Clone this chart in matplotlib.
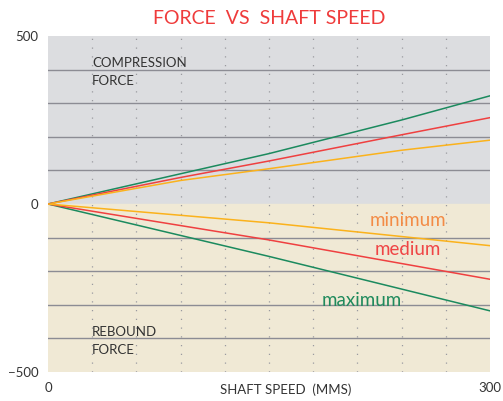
import matplotlib
matplotlib.use('agg')
import matplotlib.pyplot as plt
from matplotlib.transforms import ScaledTranslation

plt.rcParams['font.family'] = ['Lato', 'DejaVu Sans']

# values
comp_speed = [0, 90, 150, 240, 300]
comp_max = [0, 90, 150, 250, 322]
comp_med = [0, 79, 128, 206, 257]
comp_min = [0, 70, 105, 160, 190]
reb_speed = [0, 150, 300]
reb_max = [0, -156, -318]
reb_med = [0, -107, -224]
reb_min = [0, -56, -124]

green = '#1b8a5e'
red = '#ef4040'
orange = '#fbb21c'

fig = plt.figure(figsize=(5.03, 4.01), dpi=100)
ax = fig.add_axes([48/503, 1-372/401, 442/503, 336/401])

ax.axhspan(0, 500, color='#dcdde0', zorder=0)
ax.axhspan(-500, 0, color='#f0e9d5', zorder=0)

for v in [-400, -300, -200, -100, 100, 200, 300, 400]:
    ax.axhline(v, color='#8c8c94', lw=1, zorder=1)
for s in range(30, 300, 30):
    ax.axvline(s, color='#9a9aa0', lw=0.9, ls=(0, (1, 6)), zorder=1)

ax.plot(comp_speed, comp_max, color=green, lw=1.1, zorder=3)
ax.plot(comp_speed, comp_med, color=red, lw=1.1, zorder=3)
ax.plot(comp_speed, comp_min, color=orange, lw=1.1, zorder=3)
ax.plot(reb_speed, reb_max, color=green, lw=1.1, zorder=3)
ax.plot(reb_speed, reb_med, color=red, lw=1.1, zorder=3)
ax.plot(reb_speed, reb_min, color=orange, lw=1.1, zorder=3)

ax.text(244, -50, 'minimum', color='#f38b45', fontsize=13.5, ha='center', va='center')
ax.text(244, -134, 'medium', color='#ef4545', fontsize=13.5, ha='center', va='center')
ax.text(213, -286, 'maximum', color='#1f8a5c', fontsize=13.5, ha='center', va='center')

ax.text(30, 420, 'COMPRESSION', color='#333333', fontsize=9.5, va='center')
ax.text(30, 366, 'FORCE', color='#333333', fontsize=9.5, va='center')
ax.text(30, -380, 'REBOUND', color='#333333', fontsize=9.5, va='center')
ax.text(30, -434, 'FORCE', color='#333333', fontsize=9.5, va='center')

ax.set_xlim(0, 300)
ax.set_ylim(-500, 500)
ax.set_xticks([0, 300])
ax.set_yticks([-500, 0, 500])
ax.tick_params(length=0, labelsize=9.5, labelcolor='#333333', pad=7)
for sp in ax.spines.values():
    sp.set_visible(False)

# x axis title sits right of centre in the reference
ax.text(161, -500, 'SHAFT SPEED  (MMS)', color='#333333', fontsize=9.5,
        ha='center', va='top',
        transform=ax.transData + ScaledTranslation(0, -0.115, fig.dpi_scale_trans))

fig.text(269/503, 1-18/401, 'FORCE  VS  SHAFT SPEED', color='#ef3b3b',
         fontsize=14, ha='center', va='center')

fig.savefig('out.png', dpi=100)
